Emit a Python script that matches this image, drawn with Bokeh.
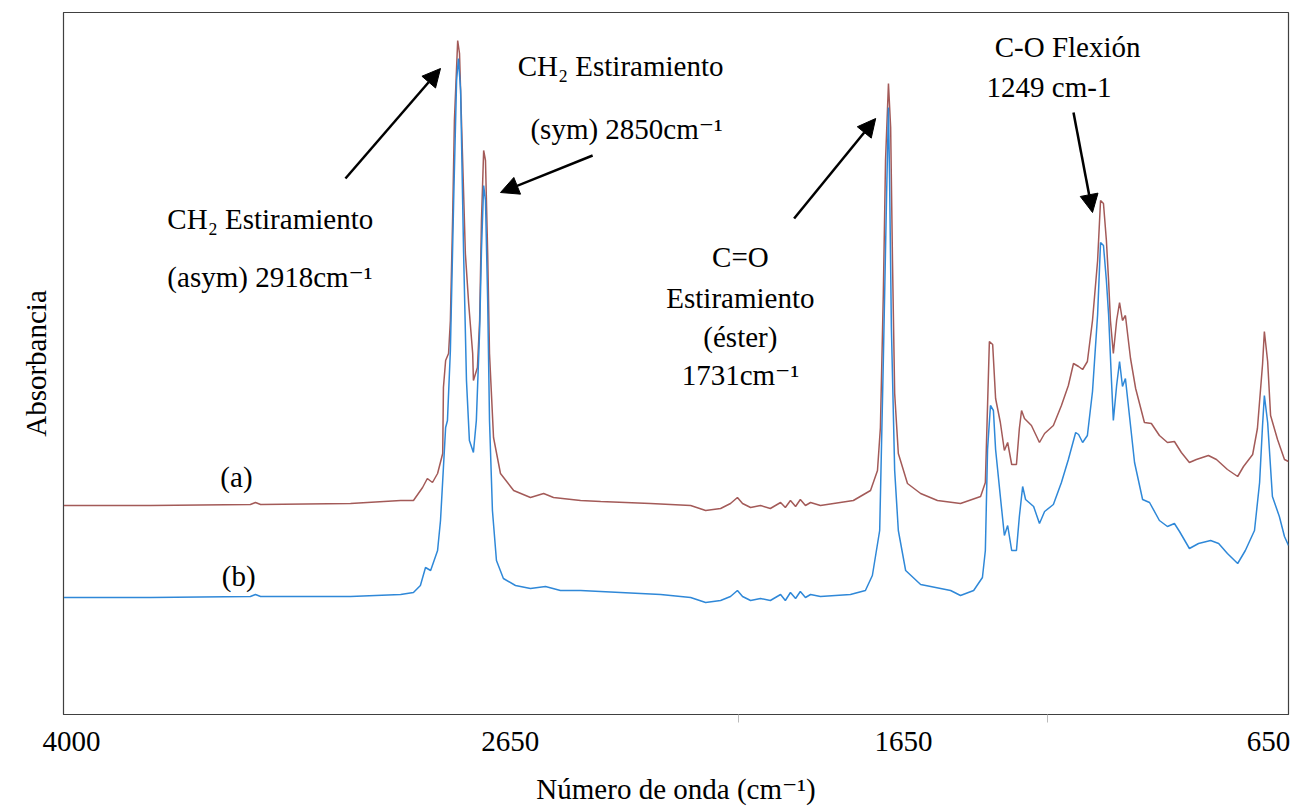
from bokeh.plotting import figure
from bokeh.models import Range1d, FixedTicker, Label, Arrow, NormalHead
from bokeh.embed import file_html
from bokeh.resources import INLINE

# ---------------- data ----------------
# spectrum (a)  – wavenumber (cm-1) and offset absorbance
wn_a = [4000, 3762, 3489, 3475, 3461, 3215, 3078, 3043, 3018, 3005, 2991, 2977, 2963, 2961,
        2955, 2947, 2942, 2936, 2931, 2922, 2917, 2909, 2901, 2892, 2881, 2879, 2868, 2862,
        2857, 2851, 2846, 2840, 2835, 2824, 2805, 2769, 2723, 2687, 2660, 2586, 2531, 2395,
        2285, 2244, 2203, 2176, 2157, 2143, 2121, 2094, 2067, 2039, 2026, 2012, 1998, 1985,
        1971, 1957, 1930, 1840, 1793, 1774, 1766, 1758, 1752, 1744, 1738, 1733, 1727, 1717,
        1692, 1656, 1610, 1547, 1492, 1479, 1468, 1459, 1451, 1438, 1427, 1418, 1407, 1394,
        1386, 1380, 1372, 1353, 1331, 1317, 1293, 1271, 1252, 1238, 1224, 1213, 1200, 1186,
        1172, 1164, 1156, 1148, 1142, 1137, 1129, 1120, 1112, 1104, 1096, 1082, 1068, 1044,
        1025, 1003, 981, 962, 943, 921, 902, 869, 847, 817, 789, 773, 748, 735, 721, 716,
        707, 699, 680, 661, 650]
abs_a = [0.209, 0.209, 0.210, 0.212, 0.210, 0.211, 0.214, 0.214, 0.227, 0.236, 0.232, 0.241, 0.261, 0.327,
         0.354, 0.361, 0.394, 0.494, 0.594, 0.674, 0.661, 0.561, 0.461, 0.411, 0.361, 0.334, 0.347, 0.394,
         0.494, 0.564, 0.554, 0.461, 0.361, 0.277, 0.241, 0.224, 0.217, 0.221, 0.217, 0.214, 0.213, 0.211,
         0.209, 0.204, 0.206, 0.211, 0.217, 0.211, 0.207, 0.209, 0.206, 0.212, 0.207, 0.214, 0.208, 0.215,
         0.209, 0.212, 0.209, 0.214, 0.224, 0.244, 0.287, 0.421, 0.554, 0.631, 0.587, 0.454, 0.321, 0.261,
         0.231, 0.221, 0.214, 0.211, 0.218, 0.232, 0.373, 0.370, 0.316, 0.292, 0.264, 0.272, 0.250, 0.250,
         0.286, 0.304, 0.296, 0.289, 0.272, 0.281, 0.289, 0.309, 0.329, 0.351, 0.348, 0.345, 0.353, 0.394,
         0.454, 0.514, 0.511, 0.474, 0.434, 0.394, 0.361, 0.394, 0.412, 0.394, 0.399, 0.356, 0.326, 0.292,
         0.291, 0.279, 0.272, 0.273, 0.262, 0.252, 0.255, 0.259, 0.255, 0.245, 0.238, 0.248, 0.260, 0.286,
         0.350, 0.383, 0.353, 0.299, 0.275, 0.255, 0.253]

# spectrum (b)
wn_b = [4000, 3762, 3489, 3475, 3461, 3215, 3078, 3043, 3024, 3010, 2996, 2977, 2969, 2955,
        2950, 2942, 2933, 2925, 2920, 2914, 2906, 2898, 2890, 2879, 2871, 2862, 2857, 2851,
        2846, 2840, 2835, 2827, 2816, 2797, 2764, 2723, 2682, 2641, 2586, 2477, 2367, 2285,
        2244, 2203, 2176, 2157, 2143, 2121, 2094, 2067, 2039, 2026, 2012, 1998, 1985, 1971,
        1957, 1930, 1848, 1807, 1788, 1768, 1758, 1749, 1744, 1741, 1736, 1727, 1717, 1697,
        1656, 1574, 1547, 1511, 1487, 1479, 1473, 1465, 1457, 1451, 1438, 1427, 1418, 1407,
        1394, 1386, 1377, 1369, 1347, 1331, 1317, 1293, 1271, 1252, 1232, 1224, 1213, 1200,
        1186, 1172, 1164, 1156, 1148, 1142, 1134, 1129, 1120, 1112, 1104, 1096, 1085, 1071,
        1049, 1030, 1003, 981, 962, 948, 921, 896, 863, 841, 817, 789, 768, 743, 729, 721,
        716, 707, 694, 675, 661, 650]
abs_b = [0.117, 0.117, 0.118, 0.120, 0.118, 0.118, 0.120, 0.122, 0.129, 0.147, 0.144, 0.164, 0.194, 0.287,
         0.294, 0.364, 0.514, 0.634, 0.656, 0.624, 0.464, 0.334, 0.274, 0.262, 0.294, 0.384, 0.464, 0.529,
         0.514, 0.414, 0.294, 0.204, 0.154, 0.136, 0.129, 0.126, 0.128, 0.124, 0.124, 0.122, 0.120, 0.117,
         0.112, 0.114, 0.118, 0.124, 0.118, 0.114, 0.116, 0.114, 0.120, 0.114, 0.122, 0.116, 0.123, 0.117,
         0.120, 0.118, 0.120, 0.124, 0.139, 0.184, 0.354, 0.521, 0.607, 0.537, 0.387, 0.244, 0.184, 0.144,
         0.130, 0.124, 0.119, 0.124, 0.137, 0.164, 0.265, 0.309, 0.304, 0.265, 0.218, 0.179, 0.189, 0.164,
         0.164, 0.198, 0.228, 0.215, 0.208, 0.191, 0.203, 0.210, 0.232, 0.255, 0.282, 0.280, 0.272, 0.279,
         0.323, 0.400, 0.472, 0.469, 0.434, 0.400, 0.333, 0.294, 0.329, 0.353, 0.328, 0.336, 0.299, 0.252,
         0.215, 0.212, 0.194, 0.188, 0.191, 0.183, 0.166, 0.171, 0.174, 0.171, 0.161, 0.151, 0.164, 0.184,
         0.232, 0.289, 0.319, 0.292, 0.218, 0.198, 0.178, 0.169]

# x-axis tick labels (positions where the labels are drawn) and small tick marks
tick_pos = [3978, 2778, 1703, 705]
tick_labels = ["4000", "2650", "1650", "650"]
minor_pos = [2154, 1309]

# annotation texts: (text, wavenumber, absorbance, align)
notes = [
    ("CH\u2082 Estiramiento", 3716, 0.496, "left"),
    ("(asym)  2918cm\u207b\u00b9", 3716, 0.438, "left"),
    ("CH\u2082 Estiramiento", 2758, 0.649, "left"),
    ("(sym) 2850cm\u207b\u00b9", 2723, 0.586, "left"),
    ("C=O", 2149, 0.458, "center"),
    ("Estiramiento", 2149, 0.417, "center"),
    ("(\u00e9ster)", 2149, 0.378, "center"),
    ("1731cm\u207b\u00b9", 2149, 0.340, "center"),
    ("C-O Flexi\u00f3n", 1254, 0.668, "center"),
    ("1249  cm-1", 1295, 0.628, "center"),
    ("(a)", 3527, 0.238, "center"),
    ("(b)", 3521, 0.139, "center"),
]
# arrows: (x_start, y_start, x_end, y_end)
arrows = [
    (3229, 0.536, 2969, 0.646),
    (2553, 0.559, 2805, 0.522),
    (2002, 0.496, 1779, 0.596),
    (1238, 0.602, 1186, 0.502),
]

FONT = "Liberation Serif, Tinos, Times New Roman, DejaVu Serif, serif"
FS = "29px"

p = figure(width=1292, height=808, output_backend="svg", toolbar_location=None,
           x_range=Range1d(4000, 650), y_range=Range1d(0, 0.702),
           min_border_left=63, min_border_right=4, min_border_top=12, min_border_bottom=94)
p.grid.visible = False
p.outline_line_color = "#404040"
p.outline_line_width = 1.2
p.background_fill_color = "white"
p.border_fill_color = "white"

p.line(wn_a, abs_a, line_color="#A35A58", line_width=1.5)
p.line(wn_b, abs_b, line_color="#2F88D8", line_width=1.5)

xa = p.xaxis[0]
xa.ticker = FixedTicker(ticks=tick_pos, minor_ticks=minor_pos)
xa.major_label_overrides = {t: l for t, l in zip(tick_pos, tick_labels)}
xa.major_tick_line_color = None
xa.minor_tick_line_color = "#BBBBBB"
xa.minor_tick_out = 8
xa.minor_tick_in = 0
xa.major_label_standoff = 9
xa.major_label_text_font = FONT
xa.major_label_text_font_size = FS
xa.major_label_text_color = "black"
xa.axis_line_color = "#404040"
xa.axis_label = "N\u00famero de onda (cm\u207b\u00b9)"
xa.axis_label_text_font = FONT
xa.axis_label_text_font_size = FS
xa.axis_label_text_font_style = "normal"
xa.axis_label_text_color = "black"
xa.axis_label_standoff = 19

ya = p.yaxis[0]
ya.ticker = FixedTicker(ticks=[])
ya.major_tick_line_color = None
ya.minor_tick_line_color = None
ya.axis_line_color = "#404040"
ya.axis_label = "Absorbancia"
ya.axis_label_text_font = FONT
ya.axis_label_text_font_size = FS
ya.axis_label_text_font_style = "normal"
ya.axis_label_text_color = "black"
ya.axis_label_standoff = 12

for txt, x, y, al in notes:
    p.add_layout(Label(x=x, y=y, text=txt, text_font=FONT, text_font_size=FS,
                       text_color="black", text_align=al, text_baseline="alphabetic"))

for xs, ys, xe, ye in arrows:
    p.add_layout(Arrow(end=NormalHead(size=18, fill_color="black", line_color="black"),
                       x_start=xs, y_start=ys, x_end=xe, y_end=ye,
                       line_color="black", line_width=2.5))

open("out.html", "w").write(file_html(p, INLINE))
